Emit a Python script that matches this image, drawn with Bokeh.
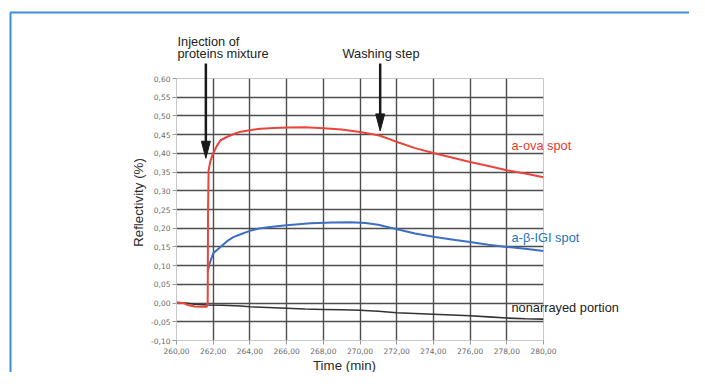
import math
from bokeh.plotting import figure
from bokeh.models import FixedTicker, CustomJSTickFormatter, Range1d
from bokeh.core.properties import value
from bokeh.embed import file_html
from bokeh.resources import INLINE

# ---- data ----
red_t = [260.0, 260.4, 260.6, 261.0, 261.3, 261.65, 261.7, 261.72, 261.75, 261.85, 262.0, 262.2,
         262.4, 262.8, 263.2, 263.5, 264.0, 264.6, 265.3, 266.1, 267.0, 268.0, 269.0, 270.0,
         270.6, 271.1, 271.6, 272.1, 273.0, 274.0, 275.0, 276.0, 277.0, 278.0, 279.0, 280.0]
red_v = [0.000, 0.000, -0.005, -0.009, -0.010, -0.010, 0.000, 0.250, 0.355, 0.380, 0.400, 0.420,
         0.435, 0.445, 0.453, 0.458, 0.462, 0.466, 0.468, 0.469, 0.470, 0.467, 0.464, 0.457,
         0.452, 0.447, 0.438, 0.429, 0.414, 0.401, 0.389, 0.377, 0.366, 0.355, 0.346, 0.336]

blue_t = [261.7, 261.8, 262.0, 262.4, 262.8, 263.1, 263.5, 264.0, 264.5, 265.1, 266.0, 267.3,
          268.5, 269.5, 270.3, 271.0, 271.6, 272.2, 273.0, 274.0, 275.0, 276.0, 277.0, 278.0,
          279.0, 280.0]
blue_v = [0.083, 0.105, 0.133, 0.150, 0.167, 0.176, 0.184, 0.193, 0.199, 0.203, 0.208, 0.213,
          0.215, 0.216, 0.214, 0.209, 0.202, 0.195, 0.186, 0.177, 0.170, 0.163, 0.156, 0.150,
          0.145, 0.139]

black_t = [260.0, 260.5, 261.0, 261.7, 262.5, 263.5, 264.0, 265.0, 266.0, 267.0, 268.0, 269.0,
           270.0, 271.0, 272.0, 273.0, 274.0, 275.0, 276.0, 277.0, 278.0, 279.0, 280.0]
black_v = [0.002, 0.000, -0.003, -0.005, -0.006, -0.008, -0.010, -0.012, -0.014, -0.016, -0.017,
           -0.018, -0.019, -0.022, -0.026, -0.028, -0.030, -0.032, -0.034, -0.037, -0.040,
           -0.042, -0.043]

x_ticks = [260, 262, 264, 266, 268, 270, 272, 274, 276, 278, 280]
y_ticks = [-0.10, -0.05, 0.00, 0.05, 0.10, 0.15, 0.20, 0.25, 0.30, 0.35, 0.40, 0.45, 0.50,
           0.55, 0.60]

arrow_t = [261.6, 271.1]          # injection, washing
arrow_tip = [0.387, 0.46]
arrow_top = [0.64, 0.64]

note_lines = ["Injection of", "proteins mixture", "Washing step"]
series_labels = ["a-ova spot", "a-β-IGI spot", "nonarrayed portion"]
series_label_y = [0.421, 0.176, -0.013]
x_title = "Time (min)"
y_title = "Reflectivity (%)"

# ---- geometry ----
W, H = 689, 372
FL, FT, FW, FH = 176, 78, 367, 262
XMIN, XMAX, YMIN, YMAX = 260.0, 280.0, -0.10, 0.60
px_x = FW / (XMAX - XMIN)
px_y = FH / (YMAX - YMIN)


def sx(px):  # canvas px -> data x
    return XMIN + (px - FL) / px_x


def sy(py):  # canvas px -> data y
    return YMAX + (FT - py) / px_y


p = figure(width=W, height=H, output_backend="svg", toolbar_location=None,
           x_range=Range1d(XMIN, XMAX), y_range=Range1d(YMIN, YMAX),
           min_border_left=FL, min_border_top=FT,
           min_border_right=W - FL - FW, min_border_bottom=H - FT - FH)
p.outline_line_color = "#c8c8c8"
p.background_fill_color = "white"
p.border_fill_color = "white"

fmt = CustomJSTickFormatter(code="return tick.toFixed(2).replace('.', ',');")
for ax in (p.xaxis[0], p.yaxis[0]):
    ax.formatter = fmt
    ax.axis_line_color = "#c8c8c8"
    ax.major_tick_line_color = "#999999"
    ax.minor_tick_line_color = None
    ax.major_tick_in = 0
    ax.major_tick_out = 4
    ax.major_label_text_font = "DejaVu Sans"
    ax.major_label_text_font_size = "7.5px"
    ax.major_label_text_color = "#6a6a6a"
p.xaxis[0].ticker = FixedTicker(ticks=x_ticks)
p.yaxis[0].ticker = FixedTicker(ticks=y_ticks)
p.xaxis[0].major_label_standoff = 3
p.yaxis[0].major_label_standoff = 2

p.xgrid[0].ticker = FixedTicker(ticks=x_ticks[1:-1])
p.ygrid[0].ticker = FixedTicker(ticks=y_ticks[1:-1])
for g in (p.xgrid[0], p.ygrid[0]):
    g.grid_line_color = "#4d4d4d"
    g.grid_line_width = 1.4

# ---- series ----
p.line(black_t, black_v, line_color="#333333", line_width=1.6)
p.line(blue_t, blue_v, line_color="#3d6fc4", line_width=2)
p.line(red_t, red_v, line_color="#e8453c", line_width=2)

# ---- arrows (unclipped overlay glyphs) ----
head_h = 17 / px_y
head_w = 4.5 / px_x
p.segment(x0=arrow_t, y0=arrow_top, x1=arrow_t, y1=[t + head_h * 0.8 for t in arrow_tip],
          line_color="#1a1a1a", line_width=2.5, level="overlay")
p.patches(xs=[[t - head_w, t + head_w, t] for t in arrow_t],
          ys=[[y + head_h, y + head_h, y] for y in arrow_tip],
          fill_color="#1a1a1a", line_color="#1a1a1a", level="overlay")

# ---- texts ----
common = dict(text_font=value("Liberation Sans"), level="overlay", text_baseline="middle")
p.text(x=[sx(177), sx(177), sx(342)], y=[sy(41), sy(53), sy(53)], text=note_lines,
       text_color="#222222", text_font_size="12.8px", **common)
p.text(x=[sx(511)] * 3, y=series_label_y, text=series_labels,
       text_color=["#e53a2f", "#1b74bd", "#222222"], text_font_size="12.8px", **common)
p.text(x=[sx(344)], y=[sy(365)], text=[x_title], text_color="#2a2a2a",
       text_align="center", text_font_size="13.3px", **common)
p.text(x=[sx(138)], y=[sy(202)], text=[y_title], text_color="#2a2a2a", angle=math.pi / 2,
       text_align="center", text_font_size="13.3px", **common)

# ---- blue frame ----
p.line(x=[sx(10), sx(10), sx(W + 20)], y=[sy(H + 20), sy(12), sy(12)],
       line_color="#3b8fd9", line_width=2, level="overlay")

open("out.html", "w").write(file_html(p, INLINE))
